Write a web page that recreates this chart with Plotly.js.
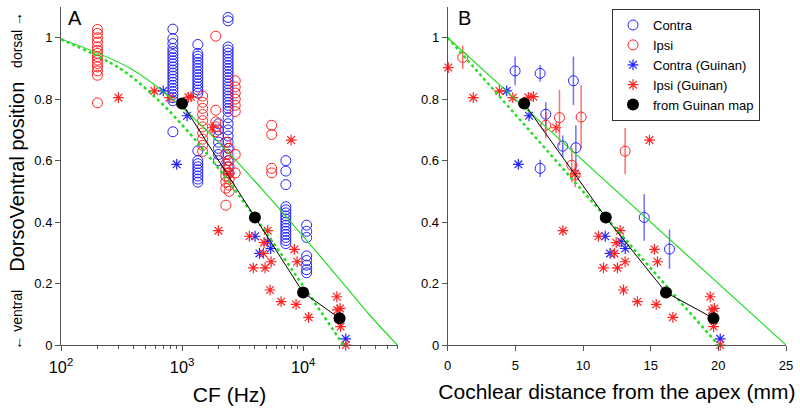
<!DOCTYPE html>
<html>
<head>
<meta charset="utf-8">
<script src="https://cdn.plot.ly/plotly-3.0.1.min.js"></script>
<style>
  body { margin: 0; background: #fff; }
  #chart { width: 800px; height: 408px; }
</style>
</head>
<body>
<div id="chart"></div>
<script>
// ---- panel A: CF (Hz) vs dorsoventral position ----
const contraColsCF = [840, 1350, 2000, 2400, 7200, 10700];
const contraColsDV = [
    [1.028, 0.997, 0.981, 0.965, 0.955, 0.945, 0.935, 0.925, 0.915, 0.905, 0.895, 0.885, 0.875, 0.865, 0.855, 0.845, 0.835, 0.825, 0.815, 0.805, 0.795, 0.694],
    [0.978, 0.949, 0.94, 0.93, 0.92, 0.91, 0.90, 0.89, 0.88, 0.87, 0.86, 0.85, 0.84, 0.83, 0.82, 0.632, 0.60, 0.59, 0.58, 0.57, 0.56, 0.55, 0.54, 0.53],
    [0.72, 0.70, 0.68, 0.66, 0.64, 0.62, 0.60],
    [1.066, 1.055, 0.97, 0.96, 0.95, 0.94, 0.93, 0.92, 0.91, 0.90, 0.89, 0.88, 0.87, 0.86, 0.85, 0.84, 0.83, 0.82, 0.81, 0.80, 0.79, 0.78, 0.77, 0.76, 0.74, 0.72, 0.70, 0.68, 0.66, 0.64, 0.62, 0.60, 0.58, 0.56],
    [0.60, 0.566, 0.522, 0.45, 0.44, 0.43, 0.42, 0.41, 0.40, 0.39, 0.38, 0.37, 0.36, 0.35, 0.34, 0.33],
    [0.39, 0.37, 0.35, 0.29, 0.275, 0.26, 0.245, 0.235]
];

const ipsiColsCF = [200, 1480, 1900, 2300, 2450, 2750, 5500];
const ipsiColsDV = [
    [1.027, 1.014, 1.0, 0.986, 0.970, 0.959, 0.949, 0.938, 0.927, 0.916, 0.905, 0.892, 0.878, 0.788],
    [0.81, 0.79, 0.77, 0.75, 0.73, 0.71, 0.69, 0.67, 0.65, 0.63],
    [1.005, 0.764, 0.726, 0.71, 0.694],
    [0.66, 0.62, 0.59, 0.57, 0.55, 0.53, 0.51, 0.455],
    [0.64, 0.60, 0.58, 0.56, 0.54, 0.52, 0.50],
    [0.86, 0.84, 0.82, 0.80, 0.78, 0.76, 0.62, 0.56],
    [0.715, 0.685, 0.575, 0.56]
];

const ipsiGuinanCF = [98, 298, 590, 790, 1130, 1185, 1780, 2450, 7960, 1995, 3600, 5100, 4760, 4700, 5440, 3880, 4850, 5330, 6580, 8750, 11100, 8470, 8920, 19000, 20200, 19200, 20400, 22500];
const ipsiGuinanDV = [0.903, 0.805, 0.827, 0.805, 0.806, 0.808, 0.707, 0.558, 0.667, 0.372, 0.354, 0.372, 0.333, 0.298, 0.271, 0.251, 0.251, 0.179, 0.141, 0.132, 0.090, 0.311, 0.271, 0.157, 0.119, 0.114, 0.060, 0.0];

const contraGuinanCF = [700, 1100, 903, 4010, 5080, 5400, 4360, 22500];
const contraGuinanDV = [0.827, 0.746, 0.588, 0.354, 0.336, 0.314, 0.298, 0.020];

const mapCF = [1000, 4000, 10000, 20000];
const mapDV = [0.786, 0.415, 0.171, 0.087];

const fitSolidCF = [100, 375, 835, 1580, 2790, 4750, 7930, 13100, 21500, 35000, 60000];
const fitSolidDV = [0.996, 0.9, 0.8, 0.7, 0.6, 0.5, 0.4, 0.3, 0.2, 0.1, 0];
const fitDotCF = [100, 306, 624, 1090, 1780, 2790, 4280, 6480, 9700, 14500, 21500];
const fitDotDV = [0.995, 0.9, 0.8, 0.7, 0.6, 0.5, 0.4, 0.3, 0.2, 0.1, 0];

// ---- panel B: cochlear distance (mm) ----
const contraMeanMM = [4.98, 6.83, 7.25, 9.29, 8.50, 9.47, 6.83, 14.52, 16.39];
const contraMeanDV = [0.892, 0.884, 0.751, 0.860, 0.647, 0.642, 0.575, 0.415, 0.312];
const contraMeanErr = [0.047, 0.027, 0.04, 0.079, 0.035, 0.073, 0.028, 0.076, 0.064];

const ipsiMeanMM = [1.11, 7.25, 8.26, 9.86, 13.11, 9.17, 9.42];
const ipsiMeanDV = [0.936, 0.715, 0.740, 0.742, 0.631, 0.585, 0.553];
const ipsiMeanErr = [0.038, 0.043, 0.091, 0.103, 0.075, 0.055, 0.04];

const ipsiGuinanMM = [0.04, 1.89, 3.82, 4.81, 5.96, 6.33, 8.01, 9.42, 14.91, 8.51, 11.14, 12.74, 12.45, 12.32, 13.11, 11.51, 12.54, 12.99, 14.02, 15.41, 16.64, 15.28, 15.50, 19.40, 19.70, 19.53, 19.65, 20.14];
const contraGuinanMM = [4.36, 6.01, 5.22, 11.64, 12.82, 13.12, 12.0, 20.14];

const mapMM = [5.65, 11.68, 16.13, 19.64];

const fitSolidMM = [0, 25];
const fitSolidMMDV = [1, 0];
const fitDotMM = [0, 20];
const fitDotMMDV = [1, 0];

const cl_blue = "rgb(35,35,255)";
const cl_red = "rgb(255,35,35)";
const cl_green = "#22dd22";
const font_family = "Liberation Sans, Arial, sans-serif";

function flatCols(cols, vals) {
    const x = [], y = [];
    cols.forEach((c, i) => vals[i].forEach(v => { x.push(c); y.push(v); }));
    return {x: x, y: y};
}

const contraA = flatCols(contraColsCF, contraColsDV);
const ipsiA = flatCols(ipsiColsCF, ipsiColsDV);

function circles(x, y, color, name, xa, ya, legend, err) {
    const t = {
        x: x, y: y, xaxis: xa, yaxis: ya, name: name, type: 'scatter', mode: 'markers',
        marker: {symbol: 'circle-open', size: 10, color: color, line: {width: 1, color: color}},
        showlegend: legend, legendgroup: name, hoverinfo: 'x+y', cliponaxis: false
    };
    if (err) {
        t.error_y = {type: 'data', array: err, visible: true, width: 0, thickness: 1.5, color: color.replace('rgb', 'rgba').replace(')', ',0.65)')};
    }
    return t;
}

function stars(x, y, color, name, xa, ya, legend) {
    return {
        x: x, y: y, xaxis: xa, yaxis: ya, name: name, type: 'scatter', mode: 'markers',
        marker: {symbol: 'asterisk-open', size: 9, color: color, line: {width: 1.2, color: color}},
        showlegend: legend, legendgroup: name, hoverinfo: 'x+y', cliponaxis: false
    };
}

function line(x, y, color, width, dash, xa, ya, shape) {
    return {
        x: x, y: y, xaxis: xa, yaxis: ya, type: 'scatter', mode: 'lines',
        line: {color: color, width: width, dash: dash, shape: shape || 'linear'},
        showlegend: false, hoverinfo: 'skip'
    };
}

function dots(x, y, xa, ya, legend) {
    return {
        x: x, y: y, xaxis: xa, yaxis: ya, name: 'from Guinan map', type: 'scatter', mode: 'markers',
        marker: {symbol: 'circle', size: 12, color: 'black'},
        showlegend: legend, legendgroup: 'map', hoverinfo: 'x+y'
    };
}

const traces = [
    // panel B first so the legend follows its order
    circles(contraMeanMM, contraMeanDV, cl_blue, 'Contra', 'x2', 'y2', true, contraMeanErr),
    circles(ipsiMeanMM, ipsiMeanDV, cl_red, 'Ipsi', 'x2', 'y2', true, ipsiMeanErr),
    stars(contraGuinanMM, contraGuinanDV, cl_blue, 'Contra (Guinan)', 'x2', 'y2', true),
    stars(ipsiGuinanMM, ipsiGuinanDV, cl_red, 'Ipsi (Guinan)', 'x2', 'y2', true),
    line(fitSolidMM, fitSolidMMDV, cl_green, 1.2, 'solid', 'x2', 'y2'),
    line(fitDotMM, fitDotMMDV, cl_green, 2.5, 'dot', 'x2', 'y2'),
    line(mapMM, mapDV, 'black', 1, 'solid', 'x2', 'y2'),
    dots(mapMM, mapDV, 'x2', 'y2', true),

    // panel A
    circles(contraA.x, contraA.y, cl_blue, 'Contra', 'x', 'y', false),
    circles(ipsiA.x, ipsiA.y, cl_red, 'Ipsi', 'x', 'y', false),
    stars(contraGuinanCF, contraGuinanDV, cl_blue, 'Contra (Guinan)', 'x', 'y', false),
    stars(ipsiGuinanCF, ipsiGuinanDV, cl_red, 'Ipsi (Guinan)', 'x', 'y', false),
    line(fitSolidCF, fitSolidDV, cl_green, 1.2, 'solid', 'x', 'y', 'spline'),
    line(fitDotCF, fitDotDV, cl_green, 2.5, 'dot', 'x', 'y', 'spline'),
    line(mapCF, mapDV, 'black', 1, 'solid', 'x', 'y'),
    dots(mapCF, mapDV, 'x', 'y', false)
];

const axisStyle = {
    showline: true, linecolor: '#555', linewidth: 1,
    ticks: 'outside', ticklen: 5, tickcolor: '#555',
    showgrid: false, zeroline: false, fixedrange: true,
    tickfont: {size: 13, color: 'black'}
};

const layout = {
    width: 800, height: 408,
    margin: {l: 61, r: 14, t: 7, b: 63},
    paper_bgcolor: 'white', plot_bgcolor: 'white',
    font: {family: font_family, color: 'black'},
    xaxis: Object.assign({}, axisStyle, {
        domain: [0, 0.465], type: 'log', range: [2, 4.785], dtick: 1,
        exponentformat: 'power', anchor: 'y', ticklabelstandoff: 3,
        minor: {ticks: 'outside', ticklen: 3, dtick: 'D1', tickcolor: '#555'},
        title: {text: 'CF (Hz)', font: {size: 21}, standoff: 12}
    }),
    yaxis: Object.assign({}, axisStyle, {
        domain: [0, 1], range: [0, 1.1], dtick: 0.2, anchor: 'x'
    }),
    xaxis2: Object.assign({}, axisStyle, {
        domain: [0.5334, 1], range: [0, 25], dtick: 5, anchor: 'y2', ticklabelstandoff: 3,
        title: {text: 'Cochlear distance from the apex (mm)', font: {size: 21}, standoff: 12}
    }),
    yaxis2: Object.assign({}, axisStyle, {
        domain: [0, 1], range: [0, 1.1], dtick: 0.2, anchor: 'x2'
    }),
    legend: {
        x: 0.76, y: 0.994, xanchor: 'left', yanchor: 'top',
        bgcolor: 'white', bordercolor: '#333', borderwidth: 1,
        font: {size: 13}, tracegroupgap: 0
    },
    annotations: [
        {text: 'DorsoVentral position', xref: 'paper', yref: 'paper', x: -0.061, y: 0.497,
         xanchor: 'center', yanchor: 'middle', textangle: -90, showarrow: false, font: {size: 20}},
        {text: 'dorsal →', xref: 'paper', yref: 'paper', x: -0.061, y: 0.902,
         xanchor: 'center', yanchor: 'middle', textangle: -90, showarrow: false, font: {size: 14}},
        {text: '← ventral', xref: 'paper', yref: 'paper', x: -0.061, y: 0.074,
         xanchor: 'center', yanchor: 'middle', textangle: -90, showarrow: false, font: {size: 14}},
        {text: 'A', xref: 'paper', yref: 'paper', x: 0.0193, y: 0.967,
         xanchor: 'center', yanchor: 'middle', showarrow: false, font: {size: 20}},
        {text: 'B', xref: 'paper', yref: 'paper', x: 0.557, y: 0.967,
         xanchor: 'center', yanchor: 'middle', showarrow: false, font: {size: 20}}
    ]
};

Plotly.newPlot('chart', traces, layout, {displayModeBar: false, staticPlot: true});
</script>
</body>
</html>
